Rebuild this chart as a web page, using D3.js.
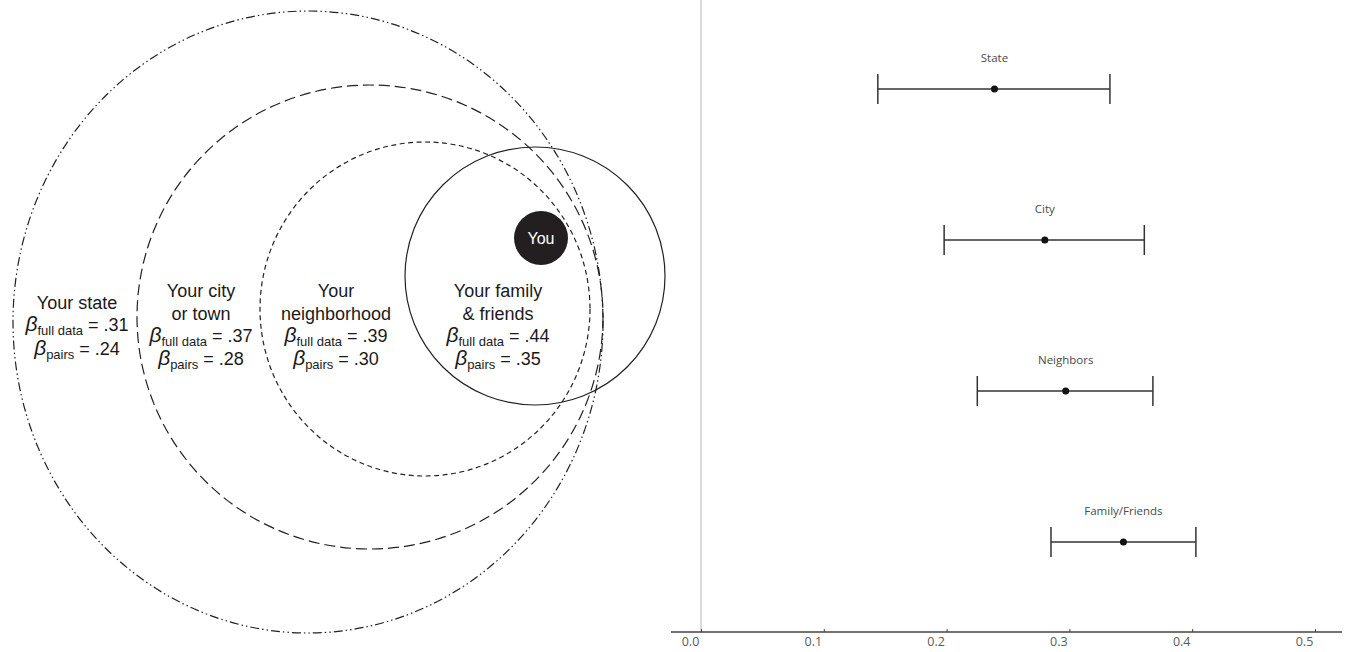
<!DOCTYPE html>
<html>
<head>
<meta charset="utf-8">
<script src="https://cdn.jsdelivr.net/npm/d3@7"></script>
<style>
  body { margin: 0; background: #fff; }
  svg { display: block; }
</style>
</head>
<body>
<div id="chart"></div>
<script>
// left panel: nested scopes
const scopeLines = [["Your state"], ["Your city", "or town"], ["Your", "neighborhood"], ["Your family", "& friends"]]
const betaFull = [".31", ".37", ".39", ".44"]
const betaPairs = [".24", ".28", ".30", ".35"]

// right panel: estimates with intervals
const categories = ["State", "City", "Neighbors", "Family/Friends"]
const estimates = [0.239, 0.280, 0.297, 0.344]
const lower = [0.144, 0.198, 0.225, 0.285]
const upper = [0.333, 0.361, 0.368, 0.403]
const tickValues = [0, 0.1, 0.2, 0.3, 0.4, 0.5]

const width = 1350, height = 652
const ink = '#222'

const svg = d3.select('#chart').append('svg')
    .attr('width', width)
    .attr('height', height)

// ---------- left panel ----------
const rings = [
    {cx: 308, cy: 322, rx: 295, ry: 311, dash: '9,3,1.5,3,1.5,3'},
    {cx: 370, cy: 317, rx: 233, ry: 232, dash: '11,5'},
    {cx: 425, cy: 309, rx: 165, ry: 167, dash: '5,3.5'},
    {cx: 535, cy: 276, rx: 130, ry: 129, dash: null}
]
const labelX = [77, 201, 336, 498]
const labelTop = [303, 291, 291, 291]
const lineGap = 22.5
const betaGap = 23.5

const left = svg.append('g')

left.selectAll('ellipse.ring')
    .data(rings)
    .join('ellipse')
    .attr('class', 'ring')
    .attr('cx', d => d.cx)
    .attr('cy', d => d.cy)
    .attr('rx', d => d.rx)
    .attr('ry', d => d.ry)
    .attr('fill', 'none')
    .attr('stroke', ink)
    .attr('stroke-width', 1.2)
    .attr('stroke-dasharray', d => d.dash)

left.append('circle')
    .attr('cx', 541)
    .attr('cy', 238)
    .attr('r', 27)
    .attr('fill', '#231f20')

left.append('text')
    .attr('x', 541)
    .attr('y', 238)
    .attr('dy', '0.35em')
    .attr('text-anchor', 'middle')
    .attr('fill', '#fff')
    .style('font-family', '"Liberation Sans", Arial, sans-serif')
    .style('font-size', '16px')
    .text('You')

const font = '"Liberation Sans", Arial, Helvetica, sans-serif'

scopeLines.forEach(function(lines, i) {
    const g = left.append('g')
        .style('font-family', font)
        .attr('fill', '#1a1a1a')
        .attr('text-anchor', 'middle')

    lines.forEach(function(line, j) {
        g.append('text')
            .attr('x', labelX[i])
            .attr('y', labelTop[i] + j * lineGap)
            .attr('dy', '0.35em')
            .style('font-size', '18px')
            .text(line)
    })

    const y0 = labelTop[i] + (lines.length - 1) * lineGap + 23
    const betaRows = [["full data", betaFull[i]], ["pairs", betaPairs[i]]]
    betaRows.forEach(function(row, k) {
        const t = g.append('text')
            .attr('x', labelX[i])
            .attr('y', y0 + k * betaGap)
            .attr('dy', '0.3em')
            .style('font-size', '18px')
        t.append('tspan')
            .style('font-style', 'italic')
            .style('font-size', '21px')
            .text('\u03B2')
        t.append('tspan')
            .attr('dy', 4)
            .style('font-size', '13px')
            .text(row[0])
        t.append('tspan')
            .attr('dy', -4)
            .text(' = ' + row[1])
    })
})

// ---------- right panel ----------
const x = d3.scaleLinear()
    .domain([0, 0.5])
    .range([701, 1315])

const y = d3.scalePoint()
    .domain(categories)
    .range([89, 542])

const axisY = 632
const right = svg.append('g')
    .style('font-family', '"Open Sans", "Noto Sans", sans-serif')

right.append('line')
    .attr('x1', x(0)).attr('x2', x(0))
    .attr('y1', 0).attr('y2', axisY)
    .attr('stroke', '#cfcfcf')
    .attr('stroke-width', 1.5)

const axis = right.append('g')
    .attr('transform', 'translate(0,' + axisY + ')')
    .call(d3.axisBottom(x).tickValues(tickValues).tickSize(-3).tickFormat(d3.format('.1f')))

axis.select('.domain').remove()
axis.append('line')
    .attr('x1', 671).attr('x2', 1342)
    .attr('stroke', '#444')
    .attr('stroke-width', 1.5)
axis.selectAll('.tick line').attr('stroke', '#444')
axis.selectAll('.tick text')
    .attr('x', -11)
    .attr('y', 5)
    .attr('dy', '0.71em')
    .attr('fill', '#5a5a5a')
    .style('font-family', '"Open Sans", "Noto Sans", sans-serif')
    .style('font-size', '12.5px')

const rows = right.selectAll('g.row')
    .data(categories.map((c, i) => ({cat: c, est: estimates[i], lo: lower[i], hi: upper[i]})))
    .join('g')
    .attr('class', 'row')
    .attr('transform', d => 'translate(0,' + y(d.cat) + ')')

rows.append('line')
    .attr('x1', d => x(d.lo))
    .attr('x2', d => x(d.hi))
    .attr('stroke', '#333')
    .attr('stroke-width', 1.5)

rows.selectAll('line.cap')
    .data(d => [d.lo, d.hi])
    .join('line')
    .attr('class', 'cap')
    .attr('x1', v => x(v)).attr('x2', v => x(v))
    .attr('y1', -15).attr('y2', 15)
    .attr('stroke', '#333')
    .attr('stroke-width', 1.5)

rows.append('circle')
    .attr('cx', d => x(d.est))
    .attr('r', 3.5)
    .attr('fill', '#111')

rows.append('text')
    .attr('x', d => x(d.est))
    .attr('y', -31)
    .attr('dy', '0.35em')
    .attr('text-anchor', 'middle')
    .attr('fill', '#4a4a4a')
    .style('font-size', '11.5px')
    .text(d => d.cat)
</script>
</body>
</html>
